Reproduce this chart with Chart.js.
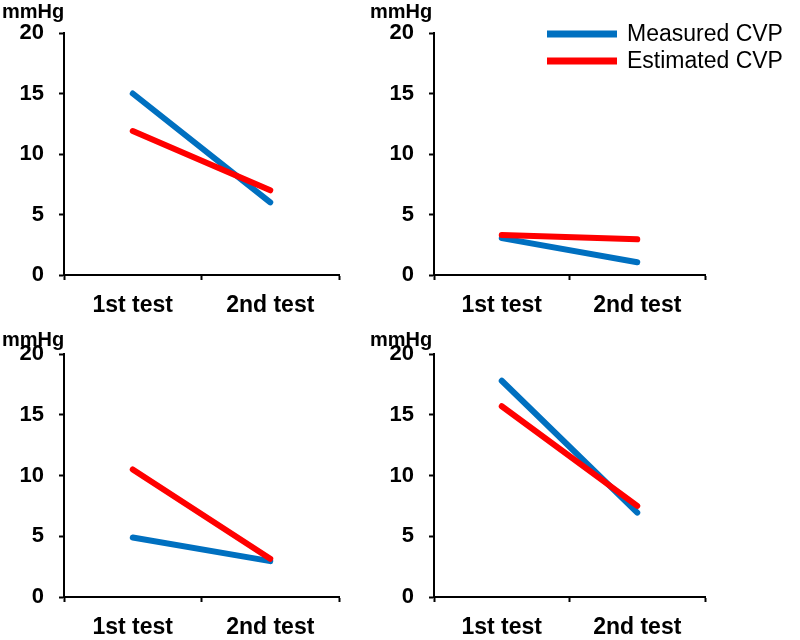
<!DOCTYPE html>
<html>
<head>
<meta charset="utf-8">
<script src="https://cdn.jsdelivr.net/npm/chart.js@4/dist/chart.umd.min.js"></script>
<style>
  body { margin: 0; background: #fff; }
  #wrap { position: relative; width: 800px; height: 640px; }
  canvas { position: absolute; }
</style>
</head>
<body>
<div id="wrap">
  <canvas id="panel-a" width="368" height="320" style="left:2px;top:0px"></canvas>
  <canvas id="panel-b" width="430" height="320" style="left:370px;top:0px"></canvas>
  <canvas id="panel-c" width="368" height="320" style="left:2px;top:320px"></canvas>
  <canvas id="panel-d" width="430" height="320" style="left:370px;top:320px"></canvas>
</div>
<script>
// --- DATA ---
const testLabels = ['1st test', '2nd test'];
const unitLabel = 'mmHg';
const seriesNames = ['Measured CVP', 'Estimated CVP'];

const measuredA = [15, 6];
const estimatedA = [11.9, 7];
const measuredB = [3.05, 1.05];
const estimatedB = [3.3, 2.95];
const measuredC = [4.9, 2.95];
const estimatedC = [10.5, 3.15];
const measuredD = [17.8, 6.95];
const estimatedD = [15.7, 7.5];

// --- STYLE ---
const BLUE = '#0070C0';
const RED = '#FF0000';
const FONT = '"Liberation Sans", Arial, sans-serif';

Chart.defaults.font.family = FONT;
Chart.defaults.color = '#000';

// draws the two-line legend inside the top-right panel
const cvpLegend = {
    id: 'cvpLegend',
    afterDraw(chart, args, opts) {
        if (!opts.display) return;
        const ctx = chart.ctx;
        ctx.save();
        chart.data.datasets.forEach((ds, i) => {
            const y = opts.top + i * opts.gap;
            ctx.strokeStyle = ds.borderColor;
            ctx.lineWidth = 7;
            ctx.lineCap = 'butt';
            ctx.beginPath();
            ctx.moveTo(opts.left, y);
            ctx.lineTo(opts.left + 70, y);
            ctx.stroke();
            ctx.fillStyle = '#000';
            ctx.font = '23px ' + FONT;
            ctx.textBaseline = 'middle';
            ctx.textAlign = 'left';
            ctx.fillText(ds.label, opts.left + 80, y + 1);
        });
        ctx.restore();
    }
};

function makePanel(id, measured, estimated, lay) {
    return new Chart(document.getElementById(id), {
        type: 'line',
        data: {
            labels: testLabels,
            datasets: [
                { label: seriesNames[0], data: measured, borderColor: BLUE, borderWidth: 6,
                  borderCapStyle: 'round', pointRadius: 0, order: 1 },
                { label: seriesNames[1], data: estimated, borderColor: RED, borderWidth: 6,
                  borderCapStyle: 'round', pointRadius: 0, order: 0 }
            ]
        },
        options: {
            responsive: false,
            animation: false,
            layout: { padding: { left: 0, top: 0, right: lay.padRight, bottom: 0 } },
            plugins: {
                legend: { display: false },
                tooltip: { enabled: false },
                title: {
                    display: true, text: unitLabel, align: 'start',
                    font: { size: 20, weight: 'bold' },
                    padding: { top: lay.titleTop, bottom: lay.titleBottom }
                },
                cvpLegend: lay.legend || { display: false }
            },
            scales: {
                x: {
                    offset: true,
                    grid: { offset: true, drawOnChartArea: false, drawTicks: true, tickLength: 5,
                            tickColor: '#000', tickWidth: 2 },
                    border: { display: true, color: '#000', width: 2 },
                    ticks: { font: { size: 23, weight: 'bold' }, padding: 12, maxRotation: 0 },
                    afterFit(scale) { scale.height = lay.xHeight; }
                },
                y: {
                    min: 0, max: 20,
                    grid: { drawOnChartArea: false, drawTicks: true, tickLength: 5,
                            tickColor: '#000', tickWidth: 2 },
                    border: { display: true, color: '#000', width: 2 },
                    ticks: { stepSize: 5, font: { size: 22, weight: 'bold' }, padding: 15 },
                    afterFit(scale) { scale.width = lay.yWidth; }
                }
            }
        },
        plugins: [cvpLegend]
    });
}

makePanel('panel-a', measuredA, estimatedA,
    { yWidth: 62, xHeight: 45, padRight: 31, titleTop: 0, titleBottom: 9 });
makePanel('panel-b', measuredB, estimatedB,
    { yWidth: 64, xHeight: 45, padRight: 95, titleTop: 0, titleBottom: 9,
      legend: { display: true, left: 177, top: 34, gap: 27 } });
makePanel('panel-c', measuredC, estimatedC,
    { yWidth: 62, xHeight: 43, padRight: 31, titleTop: 8, titleBottom: 2 });
makePanel('panel-d', measuredD, estimatedD,
    { yWidth: 64, xHeight: 43, padRight: 95, titleTop: 8, titleBottom: 2 });
</script>
</body>
</html>
